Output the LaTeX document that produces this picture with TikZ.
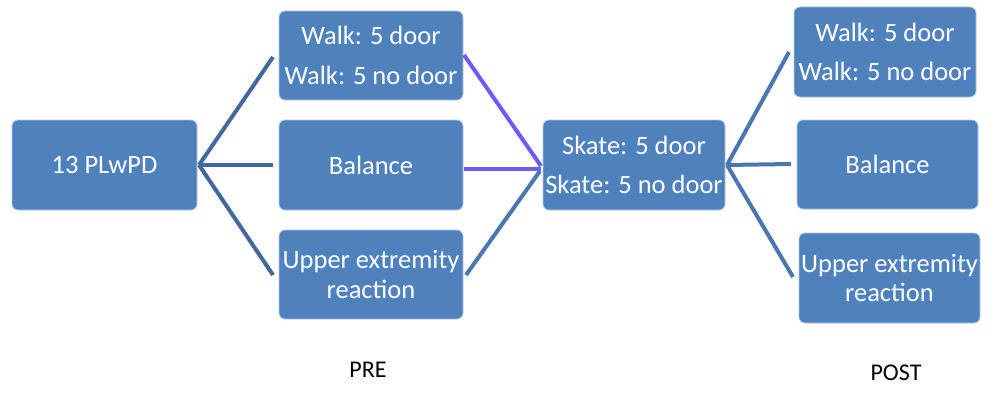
\documentclass[tikz,border=0pt]{standalone}
\usepackage{fontspec}
\setmainfont{Carlito}
\definecolor{boxblue}{HTML}{4F81BD}
\definecolor{linedark}{HTML}{41699B}
\definecolor{linemid}{HTML}{4A77AF}
\definecolor{linepurple}{HTML}{6A5CFF}
\begin{document}
\begin{tikzpicture}[x=1pt,y=1pt,
  box/.style={rectangle, rounded corners=6pt, fill=boxblue, draw=white!55!boxblue, line width=0.8pt,
    text=white, font=\fontsize{26.5}{29.5}\selectfont, align=center, inner sep=0pt},
  conn/.style={line width=4pt},
  lbl/.style={font=\fontsize{24}{28}\selectfont, text=black, inner sep=0pt}]
\useasboundingbox (0,0) rectangle (993,392);
% boxes
\node[box, minimum width=185pt, minimum height=90pt] (A) at (104.5,227) {13 PLwPD};
\node[box, minimum width=184pt, minimum height=89pt] (W1) at (371,336.5) {Walk: 5 door\\[10pt]Walk: 5 no door};
\node[box, minimum width=184pt, minimum height=90pt] (B1) at (371,227) {Balance};
\node[box, minimum width=184pt, minimum height=89pt] (U1) at (371,117.5) {Upper extremity\\reaction};
\node[box, minimum width=182pt, minimum height=90pt] (S) at (634,227) {Skate: 5 door\\[10pt]Skate: 5 no door};
\node[box, minimum width=182pt, minimum height=90pt] (W2) at (885,340) {Walk: 5 door\\[10pt]Walk: 5 no door};
\node[box, minimum width=181pt, minimum height=89pt] (B2) at (887.5,227.5) {Balance};
\node[box, minimum width=181pt, minimum height=90pt] (U2) at (889.5,114) {Upper extremity\\reaction};
% labels
\node[lbl] (pre) at (368,22) {PRE};
\node[lbl] (post) at (896,19) {POST};
% connector coordinates
\coordinate (a0) at (199,227);
\coordinate (a1) at (273,335);
\coordinate (a2) at (273,227);
\coordinate (a3) at (273,117);
\coordinate (w1r) at (464,337);
\coordinate (b1r) at (464,223);
\coordinate (u1r) at (466,117);
\coordinate (s0) at (541,226);
\coordinate (s0b) at (541,223);
\coordinate (s0c) at (540,221);
\coordinate (s1) at (727,227);
\coordinate (r1) at (789,340);
\coordinate (r2) at (791,228);
\coordinate (r3) at (793,115);
% connectors
\draw[conn, linedark] (a0) -- (a1);
\draw[conn, linedark] (a0) -- (a2);
\draw[conn, linedark] (a0) -- (a3);
\draw[conn, linepurple] (w1r) -- (s0);
\draw[conn, linepurple] (b1r) -- (s0b);
\draw[conn, linemid] (u1r) -- (s0c);
\draw[conn, linemid] (s1) -- (r1);
\draw[conn, linemid] (s1) -- (r2);
\draw[conn, linemid] (s1) -- (r3);
\end{tikzpicture}
\end{document}
